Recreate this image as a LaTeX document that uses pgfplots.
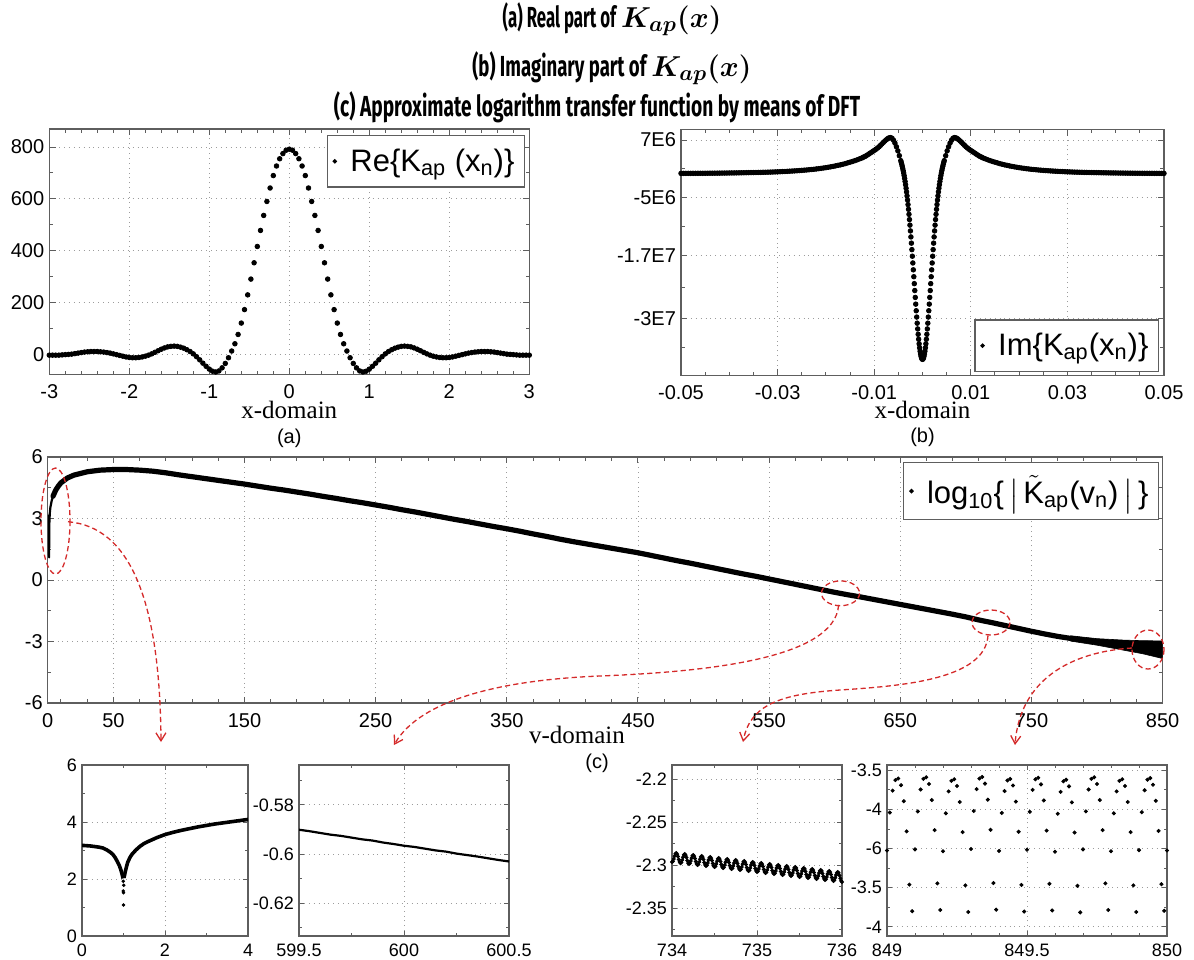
\documentclass[border=0pt]{standalone}
\usepackage{amsmath}
\usepackage{fontspec}
\setmainfont{Liberation Sans}
\newfontfamily\serifx{Liberation Serif}
\newfontfamily\titlefont{Fira Sans}
\usepackage{pgfplots}
\pgfplotsset{compat=1.18}
\usetikzlibrary{arrows.meta}

\definecolor{framegray}{HTML}{5E5E5E}
\definecolor{gridgray}{HTML}{9C9C9C}
\definecolor{annred}{HTML}{D42A2A}

\newcommand{\ttl}[3]{\scalebox{#1}[1]{\titlefont\bfseries\fontsize{14.5}{16}\selectfont #2}\hspace{2.5pt}{\fontsize{15}{17}\selectfont$\boldsymbol{#3}$}}

\pgfplotsset{
  grace/.style={
    scale only axis, anchor=south west,
    axis line style={draw=framegray, line width=0.6pt},
    tick style={draw=framegray, line width=0.5pt},
    tick align=inside, tick pos=both,
    xticklabel pos=lower, yticklabel pos=left,
    major tick length=3.2pt, minor tick length=1.8pt,
    grid=major,
    major grid style={draw=gridgray, line width=0.45pt, dotted},
    tick label style={font=\fontsize{10}{12}\selectfont},
    xticklabel style={yshift=-1.5pt}, yticklabel style={xshift=1pt},
    legend cell align=left,
    legend style={draw=framegray, line width=0.6pt, font=\fontsize{15.5}{18}\selectfont,
                  inner xsep=3pt, inner ysep=4.5pt,
                  /tikz/every odd column/.append style={column sep=5pt}},
    legend image post style={mark size=0.8pt},
  },
  inset/.style={grace, width=83pt, height=85.5pt,
    tick label style={font=\fontsize{9}{11}\selectfont},
    xticklabel style={inner sep=1pt, yshift=-1.2pt},
    major tick length=2.6pt, minor tick length=1.5pt},
  dots/.style={only marks, mark=*, mark size=1.15pt, color=black},
}

\begin{document}
\begin{tikzpicture}
\useasboundingbox (0,0) rectangle (597pt,-479.5pt);

% ---------------- (a) real part
\begin{axis}[grace, at={(24.65pt,-187.15pt)}, width=240pt, height=122.65pt,
  xmin=-3, xmax=3, ymin=-78, ymax=870,
  xtick={-3,-2,-1,0,1,2,3}, xticklabels={-3,-2,-1,0,1,2,3},
  ytick={0,200,400,600,800}, yticklabels={0,200,400,600,800},
  minor x tick num=4, minor y tick num=1,
  xlabel={x-domain},
  xlabel style={font=\serifx\fontsize{12.5}{14}\selectfont, at={(axis description cs:0.5,-0.1455)}, anchor=center},
  legend style={at={(0.991,0.9755)}, anchor=north east},
]
\addplot[dots] coordinates {
(-3.00,-4)(-2.96,-4)(-2.92,-4)(-2.88,-4)(-2.84,-3)(-2.80,-2)(-2.76,-1)(-2.72,0)(-2.68,2)(-2.64,4)
(-2.60,6)(-2.56,8)(-2.52,9)(-2.48,10)(-2.44,10)(-2.40,10)(-2.36,9)(-2.32,8)(-2.28,6)(-2.24,4)
(-2.20,1)(-2.16,-2)(-2.12,-5)(-2.08,-8)(-2.04,-11)(-2.00,-13)(-1.96,-14)(-1.92,-14)(-1.88,-13)(-1.84,-11)
(-1.80,-8)(-1.76,-4)(-1.72,1)(-1.68,7)(-1.64,13)(-1.60,19)(-1.56,24)(-1.52,28)(-1.48,30)(-1.44,31)
(-1.40,30)(-1.36,27)(-1.32,23)(-1.28,17)(-1.24,10)(-1.20,1)(-1.16,-10)(-1.12,-22)(-1.08,-35)(-1.04,-47)
(-1.00,-58)(-0.96,-66)(-0.92,-69)(-0.88,-65)(-0.84,-53)(-0.80,-36)(-0.76,-14)(-0.72,12)(-0.68,40)(-0.64,76)
(-0.60,120)(-0.56,172)(-0.52,229)(-0.48,290)(-0.44,353)(-0.40,416)(-0.36,478)(-0.32,536)(-0.28,590)(-0.24,642)
(-0.20,690)(-0.16,727)(-0.12,755)(-0.08,775)(-0.04,788)(0.00,792)
(0.04,788)(0.08,775)(0.12,755)(0.16,727)(0.20,690)(0.24,642)(0.28,590)(0.32,536)(0.36,478)(0.40,416)
(0.44,353)(0.48,290)(0.52,229)(0.56,172)(0.60,120)(0.64,76)(0.68,40)(0.72,12)(0.76,-14)(0.80,-36)
(0.84,-53)(0.88,-65)(0.92,-69)(0.96,-66)(1.00,-58)(1.04,-47)(1.08,-35)(1.12,-22)(1.16,-10)(1.20,1)
(1.24,10)(1.28,17)(1.32,23)(1.36,27)(1.40,30)(1.44,31)(1.48,30)(1.52,28)(1.56,24)(1.60,19)
(1.64,13)(1.68,7)(1.72,1)(1.76,-4)(1.80,-8)(1.84,-11)(1.88,-13)(1.92,-14)(1.96,-14)(2.00,-13)
(2.04,-11)(2.08,-8)(2.12,-5)(2.16,-2)(2.20,1)(2.24,4)(2.28,6)(2.32,8)(2.36,9)(2.40,10)
(2.44,10)(2.48,10)(2.52,9)(2.56,8)(2.60,6)(2.64,4)(2.68,2)(2.72,0)(2.76,-1)(2.80,-2)
(2.84,-3)(2.88,-4)(2.92,-4)(2.96,-4)(3.00,-4)
};
\addlegendentry{Re\{K$_{\text{ap}}$ (x$_{\text{n}}$)\}}
\end{axis}

% ---------------- (b) imaginary part (x in units of 1e-3, y in units of 1e6)
\begin{axis}[grace, at={(340.5pt,-187.85pt)}, width=241.5pt, height=123pt,
  xmin=-50, xmax=50, ymin=-41.9, ymax=9.14,
  xtick={-50,-30,-10,10,30,50}, xticklabels={-0.05,-0.03,-0.01,0.01,0.03,0.05},
  minor x tick num=3,
  ytick={-30,-17,-5,7}, yticklabels={-3E7,-1.7E7,-5E6,7E6},
  minor ytick={-36,-23.5,-11,1},
  xlabel={x-domain},
  xlabel style={font=\serifx\fontsize{12.5}{14}\selectfont, at={(axis description cs:0.5,-0.139)}, anchor=center},
  legend style={at={(0.9896,0.015)}, anchor=south east},
]
\addplot[dots] coordinates {
(-50,0.074)(-49.5,0.076)(-49,0.078)(-48.5,0.08)(-48,0.082)(-47.5,0.085)(-47,0.088)(-46.5,0.091)(-46,0.094)(-45.5,0.097)
(-45,0.1)(-44.5,0.105)(-44,0.11)(-43.5,0.115)(-43,0.12)(-42.5,0.125)(-42,0.13)(-41.5,0.14)(-41,0.145)(-40.5,0.15)
(-40,0.16)(-39.5,0.165)(-39,0.17)(-38.5,0.18)(-38,0.19)(-37.5,0.2)(-37,0.21)(-36.5,0.22)(-36,0.23)(-35.5,0.24)
(-35,0.25)(-34.5,0.26)(-34,0.27)(-33.5,0.28)(-33,0.3)(-32.5,0.31)(-32,0.33)(-31.5,0.34)(-31,0.36)(-30.5,0.38)
(-30,0.4)(-29.5,0.42)(-29,0.45)(-28.5,0.47)(-28,0.5)(-27.5,0.53)(-27,0.56)(-26.5,0.59)(-26,0.62)(-25.5,0.66)
(-25,0.7)(-24.5,0.74)(-24,0.78)(-23.5,0.83)(-23,0.88)(-22.5,0.93)(-22,0.99)(-21.5,1.05)(-21,1.12)(-20.5,1.19)
(-20,1.27)(-19.5,1.35)(-19,1.44)(-18.5,1.53)(-18,1.63)(-17.5,1.74)(-17,1.85)(-16.5,1.97)(-16,2.1)(-15.5,2.25)
(-15,2.4)(-14.5,2.55)(-14,2.72)(-13.5,2.9)(-13,3.1)
(-12.6,3.25)(-12.3,3.4)(-12,3.55)(-11.7,3.7)(-11.4,3.9)(-11.1,4.1)(-10.8,4.3)(-10.5,4.5)(-10.2,4.7)(-9.9,4.9)
(-9.6,5.1)(-9.3,5.35)(-9,5.6)(-8.7,5.9)(-8.4,6.2)(-8.1,6.5)(-7.8,6.8)(-7.5,7.05)(-7.2,7.3)(-6.9,7.45)
(-6.6,7.5)(-6.3,7.35)(-6,6.95)(-5.7,6.35)(-5.4,5.6)(-5.1,4.75)(-4.8,3.75)
(-4.5,2.72)(-4.4,2.36)(-4.3,1.97)(-4.2,1.56)(-4.1,1.12)(-4,0.65)(-3.9,0.14)(-3.8,-0.4)(-3.7,-0.98)(-3.6,-1.61)
(-3.5,-2.28)(-3.4,-3)(-3.3,-3.77)(-3.2,-4.59)(-3.1,-5.46)(-3,-6.39)(-2.9,-7.38)(-2.8,-8.42)(-2.7,-9.51)(-2.6,-10.66)
(-2.5,-11.86)(-2.4,-13.11)(-2.3,-14.4)(-2.2,-15.74)(-2.1,-17.11)(-2,-18.51)(-1.9,-19.93)(-1.8,-21.36)(-1.7,-22.8)(-1.6,-24.23)
(-1.5,-25.66)(-1.4,-27.05)(-1.3,-28.42)(-1.2,-29.73)(-1.1,-31)(-1,-32.19)(-0.9,-33.31)(-0.8,-34.34)(-0.7,-35.28)(-0.6,-36.11)
(-0.5,-36.82)(-0.4,-37.42)(-0.3,-37.89)(-0.2,-38.23)(-0.1,-38.43)(0,-38.5)
(0.1,-38.43)(0.2,-38.23)(0.3,-37.89)(0.4,-37.42)(0.5,-36.82)(0.6,-36.11)(0.7,-35.28)(0.8,-34.34)(0.9,-33.31)(1,-32.19)
(1.1,-31)(1.2,-29.73)(1.3,-28.42)(1.4,-27.05)(1.5,-25.66)(1.6,-24.23)(1.7,-22.8)(1.8,-21.36)(1.9,-19.93)(2,-18.51)
(2.1,-17.11)(2.2,-15.74)(2.3,-14.4)(2.4,-13.11)(2.5,-11.86)(2.6,-10.66)(2.7,-9.51)(2.8,-8.42)(2.9,-7.38)(3,-6.39)
(3.1,-5.46)(3.2,-4.59)(3.3,-3.77)(3.4,-3)(3.5,-2.28)(3.6,-1.61)(3.7,-0.98)(3.8,-0.4)(3.9,0.14)(4,0.65)
(4.1,1.12)(4.2,1.56)(4.3,1.97)(4.4,2.36)(4.5,2.72)
(4.8,3.75)(5.1,4.75)(5.4,5.6)(5.7,6.35)(6,6.95)(6.3,7.35)(6.6,7.5)(6.9,7.45)(7.2,7.3)(7.5,7.05)
(7.8,6.8)(8.1,6.5)(8.4,6.2)(8.7,5.9)(9,5.6)(9.3,5.35)(9.6,5.1)(9.9,4.9)(10.2,4.7)(10.5,4.5)
(10.8,4.3)(11.1,4.1)(11.4,3.9)(11.7,3.7)(12,3.55)(12.3,3.4)(12.6,3.25)
(13,3.1)(13.5,2.9)(14,2.72)(14.5,2.55)(15,2.4)(15.5,2.25)(16,2.1)(16.5,1.97)(17,1.85)(17.5,1.74)
(18,1.63)(18.5,1.53)(19,1.44)(19.5,1.35)(20,1.27)(20.5,1.19)(21,1.12)(21.5,1.05)(22,0.99)(22.5,0.93)
(23,0.88)(23.5,0.83)(24,0.78)(24.5,0.74)(25,0.7)(25.5,0.66)(26,0.62)(26.5,0.59)(27,0.56)(27.5,0.53)
(28,0.5)(28.5,0.47)(29,0.45)(29.5,0.42)(30,0.4)(30.5,0.38)(31,0.36)(31.5,0.34)(32,0.33)(32.5,0.31)
(33,0.3)(33.5,0.28)(34,0.27)(34.5,0.26)(35,0.25)(35.5,0.24)(36,0.23)(36.5,0.22)(37,0.21)(37.5,0.2)
(38,0.19)(38.5,0.18)(39,0.17)(39.5,0.165)(40,0.16)(40.5,0.15)(41,0.145)(41.5,0.14)(42,0.13)(42.5,0.125)
(43,0.12)(43.5,0.115)(44,0.11)(44.5,0.105)(45,0.1)(45.5,0.097)(46,0.094)(46.5,0.091)(47,0.088)(47.5,0.085)
(48,0.082)(48.5,0.08)(49,0.078)(49.5,0.076)(50,0.074)
};
\addlegendentry{Im\{K$_{\text{ap}}$(x$_{\text{n}}$)\}}
\end{axis}

% ---------------- (c) log10 of the transfer function
\begin{axis}[grace, at={(23.9pt,-351.5pt)}, width=557.4pt, height=123pt,
  xmin=0, xmax=850, ymin=-6, ymax=6,
  xtick={0,50,150,250,350,450,550,650,750,850},
  xticklabels={0,50,150,250,350,450,550,650,750,850},
  minor xtick={10,30,70,90,110,130,170,190,210,230,270,290,310,330,370,390,410,430,
               470,490,510,530,570,590,610,630,670,690,710,730,770,790,810,830},
  ytick={-6,-3,0,3,6}, yticklabels={-6,-3,0,3,6}, minor y tick num=1,
  xlabel={v-domain},
  xlabel style={font=\serifx\fontsize{12.5}{14}\selectfont, at={(axis description cs:0.4747,-0.130)}, anchor=center},
  legend style={at={(0.9968,0.9797)}, anchor=north east},
]
\addlegendimage{only marks, mark=*, mark size=0.8pt, black}
\addlegendentry{log$_{\text{10}}$\{\,$\bigl|\,\tilde{\text{K}}_{\text{ap}}$(v$_{\text{n}}$)$\,\bigr|$\,\}}
\addplot[black, line width=1.1pt, line join=round, forget plot] coordinates {
(0,3.18)(0.5,3.09)(0.9,2.47)(1,1.1)(1.1,2.62)(1.5,3.25)(2,3.56)(3,3.88)(4,4.09)(6,4.38)
};
\addplot[black, line width=2.6pt, line join=round, line cap=round, forget plot] coordinates {
(4,4.09)(6,4.38)(8,4.58)(10,4.74)(15,4.98)(20,5.12)(30,5.28)(40,5.36)(50,5.39)(60,5.39)
(70,5.36)(80,5.31)(90,5.23)(100,5.13)(110,5.04)(120,4.95)(130,4.86)(140,4.77)(150,4.68)(160,4.58)
(170,4.48)(180,4.39)(190,4.29)(200,4.19)(210,4.08)(220,3.98)(230,3.87)(240,3.77)(250,3.66)(260,3.55)
(270,3.43)(280,3.32)(290,3.20)(300,3.08)(310,2.96)(320,2.85)(330,2.73)(340,2.61)(350,2.50)(360,2.38)
(370,2.25)(380,2.13)(390,2.00)(400,1.88)(410,1.77)(420,1.66)(430,1.55)(440,1.44)(450,1.33)(460,1.20)
(470,1.07)(480,0.94)(490,0.82)(500,0.69)(510,0.56)(520,0.43)(530,0.30)(540,0.18)(550,0.05)(560,-0.08)
(570,-0.21)(580,-0.34)(590,-0.47)(600,-0.60)(610,-0.72)(620,-0.83)(630,-0.95)(640,-1.07)(650,-1.19)(660,-1.31)
(670,-1.43)(680,-1.55)(690,-1.67)(700,-1.80)(710,-1.95)(720,-2.08)(730,-2.22)(740,-2.36)(750,-2.50)(760,-2.63)
(770,-2.75)(780,-2.85)(790,-2.93)(800,-3.0)
};
\addplot[fill=black, draw=black, line width=0.3pt, forget plot] coordinates {
(780,-2.72)(800,-2.86)(820,-2.93)(835,-2.96)(850,-2.97)
(850,-3.83)(835,-3.60)(820,-3.42)(800,-3.18)(780,-2.98)
} -- cycle;
\end{axis}

% ---------------- inset 1: 0..4
\begin{axis}[inset, at={(41pt,-468pt)},
  xmin=0, xmax=4, ymin=0, ymax=6,
  xtick={0,2,4}, xticklabels={0,2,4}, minor x tick num=1,
  ytick={0,2,4,6}, yticklabels={0,2,4,6}, minor y tick num=1,
]
\addplot[black, line width=1.8pt, line join=round] coordinates {
(0,3.18)(0.1,3.17)(0.2,3.16)(0.3,3.14)(0.4,3.12)(0.5,3.09)(0.6,3.02)(0.7,2.92)(0.75,2.85)(0.8,2.75)
(0.85,2.62)(0.9,2.47)(0.93,2.35)(0.96,2.2)(0.98,2.08)(0.99,2.02)
};
\addplot[black, line width=1.8pt, line join=round] coordinates {
(1.01,2.04)(1.02,2.1)(1.04,2.24)(1.07,2.42)(1.1,2.58)(1.15,2.74)(1.2,2.86)(1.3,3.02)(1.4,3.15)(1.5,3.25)
(1.6,3.32)(1.8,3.45)(2.0,3.56)(2.2,3.64)(2.4,3.71)(2.6,3.77)(2.8,3.83)(3.0,3.88)(3.2,3.93)(3.4,3.97)
(3.6,4.01)(3.8,4.05)(4.0,4.09)
};
\addplot[only marks, mark=*, mark size=0.65pt, black] coordinates {
(0.995,1.92)(1.005,1.78)(0.995,1.58)(1.0,1.52)(1.0,1.09)
};
\end{axis}

% ---------------- inset 2: 599.5..600.5
\begin{axis}[inset, at={(149.5pt,-468pt)}, width=105pt,
  xmin=599.5, xmax=600.5, ymin=-0.6333, ymax=-0.5638,
  xtick={599.5,600,600.5}, xticklabels={599.5,600,600.5}, minor x tick num=1,
  ytick={-0.62,-0.6,-0.58}, yticklabels={-0.62,-0.6,-0.58},
  minor ytick={-0.63,-0.61,-0.59,-0.57},
]
\addplot[black, line width=1.1pt] coordinates {
(599.50,-0.5901)(599.55,-0.5907)(599.60,-0.5914)(599.65,-0.5921)(599.70,-0.5926)(599.75,-0.5933)
(599.80,-0.5940)(599.85,-0.5945)(599.90,-0.5953)(599.95,-0.5959)(600.00,-0.5966)(600.05,-0.5971)
(600.10,-0.5978)(600.15,-0.5985)(600.20,-0.5990)(600.25,-0.5998)(600.30,-0.6004)(600.35,-0.6010)
(600.40,-0.6017)(600.45,-0.6024)(600.50,-0.6030)
};
\end{axis}

% ---------------- inset 3: 734..736
\begin{axis}[inset, at={(336pt,-468pt)}, width=85pt,
  xmin=734, xmax=736, ymin=-2.3825, ymax=-2.1834,
  xtick={734,735,736}, xticklabels={734,735,736}, minor x tick num=1,
  ytick={-2.35,-2.3,-2.25,-2.2}, yticklabels={-2.35,-2.3,-2.25,-2.2},
  minor ytick={-2.375,-2.325,-2.275,-2.225},
]
\addplot[only marks, mark=*, mark size=0.8pt, black] coordinates {
(734.00,-2.2964)(734.01,-2.2955)(734.02,-2.2928)(734.03,-2.2895)(734.04,-2.2869)(734.05,-2.2859)(734.06,-2.2871)(734.07,-2.2899)(734.08,-2.2934)(734.09,-2.2963)
(734.10,-2.2976)(734.11,-2.2967)(734.12,-2.2940)(734.13,-2.2907)(734.14,-2.2881)(734.15,-2.2871)(734.16,-2.2883)(734.17,-2.2911)(734.18,-2.2946)(734.19,-2.2975)
(734.20,-2.2987)(734.21,-2.2978)(734.22,-2.2951)(734.23,-2.2918)(734.24,-2.2892)(734.25,-2.2882)(734.26,-2.2894)(734.27,-2.2922)(734.28,-2.2957)(734.29,-2.2986)
(734.30,-2.2999)(734.31,-2.2990)(734.32,-2.2963)(734.33,-2.2930)(734.34,-2.2904)(734.35,-2.2894)(734.36,-2.2906)(734.37,-2.2934)(734.38,-2.2969)(734.39,-2.2998)
(734.40,-2.3010)(734.41,-2.3001)(734.42,-2.2974)(734.43,-2.2941)(734.44,-2.2915)(734.45,-2.2905)(734.46,-2.2917)(734.47,-2.2945)(734.48,-2.2980)(734.49,-2.3009)
(734.50,-2.3022)(734.51,-2.3013)(734.52,-2.2986)(734.53,-2.2953)(734.54,-2.2927)(734.55,-2.2917)(734.56,-2.2929)(734.57,-2.2957)(734.58,-2.2992)(734.59,-2.3021)
(734.60,-2.3034)(734.61,-2.3025)(734.62,-2.2998)(734.63,-2.2965)(734.64,-2.2939)(734.65,-2.2929)(734.66,-2.2941)(734.67,-2.2969)(734.68,-2.3004)(734.69,-2.3033)
(734.70,-2.3045)(734.71,-2.3036)(734.72,-2.3009)(734.73,-2.2976)(734.74,-2.2950)(734.75,-2.2940)(734.76,-2.2952)(734.77,-2.2980)(734.78,-2.3015)(734.79,-2.3044)
(734.80,-2.3057)(734.81,-2.3048)(734.82,-2.3021)(734.83,-2.2988)(734.84,-2.2962)(734.85,-2.2952)(734.86,-2.2964)(734.87,-2.2992)(734.88,-2.3027)(734.89,-2.3056)
(734.90,-2.3068)(734.91,-2.3059)(734.92,-2.3032)(734.93,-2.2999)(734.94,-2.2973)(734.95,-2.2963)(734.96,-2.2975)(734.97,-2.3003)(734.98,-2.3038)(734.99,-2.3067)
(735.00,-2.3080)(735.01,-2.3071)(735.02,-2.3044)(735.03,-2.3011)(735.04,-2.2985)(735.05,-2.2975)(735.06,-2.2987)(735.07,-2.3015)(735.08,-2.3050)(735.09,-2.3079)
(735.10,-2.3092)(735.11,-2.3083)(735.12,-2.3056)(735.13,-2.3023)(735.14,-2.2997)(735.15,-2.2987)(735.16,-2.2999)(735.17,-2.3027)(735.18,-2.3062)(735.19,-2.3091)
(735.20,-2.3103)(735.21,-2.3094)(735.22,-2.3067)(735.23,-2.3034)(735.24,-2.3008)(735.25,-2.2998)(735.26,-2.3010)(735.27,-2.3038)(735.28,-2.3073)(735.29,-2.3102)
(735.30,-2.3115)(735.31,-2.3106)(735.32,-2.3079)(735.33,-2.3046)(735.34,-2.3020)(735.35,-2.3010)(735.36,-2.3022)(735.37,-2.3050)(735.38,-2.3085)(735.39,-2.3114)
(735.40,-2.3126)(735.41,-2.3117)(735.42,-2.3090)(735.43,-2.3057)(735.44,-2.3031)(735.45,-2.3021)(735.46,-2.3033)(735.47,-2.3061)(735.48,-2.3096)(735.49,-2.3125)
(735.50,-2.3138)(735.51,-2.3129)(735.52,-2.3102)(735.53,-2.3069)(735.54,-2.3043)(735.55,-2.3033)(735.56,-2.3045)(735.57,-2.3073)(735.58,-2.3108)(735.59,-2.3137)
(735.60,-2.3150)(735.61,-2.3141)(735.62,-2.3114)(735.63,-2.3081)(735.64,-2.3055)(735.65,-2.3045)(735.66,-2.3057)(735.67,-2.3085)(735.68,-2.3120)(735.69,-2.3149)
(735.70,-2.3161)(735.71,-2.3152)(735.72,-2.3125)(735.73,-2.3092)(735.74,-2.3066)(735.75,-2.3056)(735.76,-2.3068)(735.77,-2.3096)(735.78,-2.3131)(735.79,-2.3160)
(735.80,-2.3173)(735.81,-2.3164)(735.82,-2.3137)(735.83,-2.3104)(735.84,-2.3078)(735.85,-2.3068)(735.86,-2.3080)(735.87,-2.3108)(735.88,-2.3143)(735.89,-2.3172)
(735.90,-2.3184)(735.91,-2.3175)(735.92,-2.3148)(735.93,-2.3115)(735.94,-2.3089)(735.95,-2.3079)(735.96,-2.3091)(735.97,-2.3119)(735.98,-2.3154)(735.99,-2.3183)
(736.00,-2.3196)
};
\end{axis}

% ---------------- inset 4: 849..850
\begin{axis}[inset, at={(443.5pt,-468pt)}, width=140pt,
  xmin=849, xmax=850, ymin=-3.9234, ymax=-3.4865,
  xtick={849,849.5,850}, xticklabels={849,849.5,850},
  minor xtick={849.1,849.2,849.3,849.4,849.6,849.7,849.8,849.9},
  ytick={-3.9,-3.8,-3.7,-3.6,-3.5}, yticklabels={-4,-3.5,-6,-4,-3.5},
  minor ytick={-3.85,-3.75,-3.65,-3.55},
]
\addplot[only marks, mark=*, mark size=0.8pt, black] coordinates {
(849.00,-3.705)(849.01,-3.608)(849.02,-3.552)(849.03,-3.525)(849.04,-3.521)(849.05,-3.538)(849.06,-3.579)(849.07,-3.656)(849.08,-3.792)(849.09,-3.860)
(849.10,-3.702)(849.11,-3.605)(849.12,-3.549)(849.13,-3.522)(849.14,-3.518)(849.15,-3.535)(849.16,-3.576)(849.17,-3.653)(849.18,-3.789)(849.19,-3.857)
(849.20,-3.707)(849.21,-3.610)(849.22,-3.554)(849.23,-3.527)(849.24,-3.523)(849.25,-3.540)(849.26,-3.581)(849.27,-3.658)(849.28,-3.794)(849.29,-3.862)
(849.30,-3.701)(849.31,-3.604)(849.32,-3.548)(849.33,-3.521)(849.34,-3.517)(849.35,-3.534)(849.36,-3.575)(849.37,-3.652)(849.38,-3.788)(849.39,-3.856)
(849.40,-3.706)(849.41,-3.609)(849.42,-3.553)(849.43,-3.526)(849.44,-3.522)(849.45,-3.539)(849.46,-3.580)(849.47,-3.657)(849.48,-3.793)(849.49,-3.861)
(849.50,-3.703)(849.51,-3.606)(849.52,-3.550)(849.53,-3.523)(849.54,-3.519)(849.55,-3.536)(849.56,-3.577)(849.57,-3.654)(849.58,-3.790)(849.59,-3.858)
(849.60,-3.708)(849.61,-3.611)(849.62,-3.555)(849.63,-3.528)(849.64,-3.524)(849.65,-3.541)(849.66,-3.582)(849.67,-3.659)(849.68,-3.795)(849.69,-3.863)
(849.70,-3.702)(849.71,-3.605)(849.72,-3.549)(849.73,-3.522)(849.74,-3.518)(849.75,-3.535)(849.76,-3.576)(849.77,-3.653)(849.78,-3.789)(849.79,-3.857)
(849.80,-3.707)(849.81,-3.610)(849.82,-3.554)(849.83,-3.527)(849.84,-3.523)(849.85,-3.540)(849.86,-3.581)(849.87,-3.658)(849.88,-3.794)(849.89,-3.862)
(849.90,-3.704)(849.91,-3.607)(849.92,-3.551)(849.93,-3.524)(849.94,-3.520)(849.95,-3.537)(849.96,-3.578)(849.97,-3.655)(849.98,-3.791)(849.99,-3.859)
(850.00,-3.705)
};
\end{axis}

% ---------------- titles, captions and red annotations (pixel grid of the reference)
\begin{scope}[x=0.5pt, y=-0.5pt]
\node[anchor=base] at (612,27) {\ttl{0.58}{(a) Real part of}{K_{ap}(x)}};
\node[anchor=base] at (612,76) {\ttl{0.64}{(b) Imaginary part of}{K_{ap}(x)}};
\node[anchor=base] at (597,116) {\scalebox{0.66}[1]{\titlefont\bfseries\fontsize{14.5}{16}\selectfont (c) Approximate logarithm transfer function by means of DFT}};
\node[font=\fontsize{10}{12}\selectfont] at (289.3,438) {(a)};
\node[font=\fontsize{10}{12}\selectfont] at (922.5,437) {(b)};
\node[font=\fontsize{10}{12}\selectfont] at (597,763) {(c)};

\begin{scope}[draw=annred, line width=0.65pt, dash pattern=on 2.6pt off 1.6pt]
\draw (55.5,521) ellipse [x radius=14.5, y radius=53];
\draw (840.5,593.3) ellipse [x radius=19, y radius=12.4];
\draw (991,622.5) ellipse [x radius=19, y radius=12.5];
\draw (1148,649.5) ellipse [x radius=16, y radius=19.5];
\draw[-{Straight Barb[length=4pt,width=5pt]}] (68,521.7) .. controls (130,527) and (160,600) .. (161,742);
\draw[-{Straight Barb[length=4pt,width=5pt]}] (838.6,605) .. controls (835,660) and (700,672) .. (600,676)
      .. controls (500,680) and (420,700) .. (394,745);
\draw[-{Straight Barb[length=4pt,width=5pt]}] (988,635.5) .. controls (985,680) and (900,686) .. (840,690)
      .. controls (780,694) and (750,705) .. (743,742);
\draw[-{Straight Barb[length=4pt,width=5pt]}] (1132,648) .. controls (1070,652) and (1020,680) .. (1015,745);
\end{scope}
\end{scope}
\end{tikzpicture}
\end{document}
